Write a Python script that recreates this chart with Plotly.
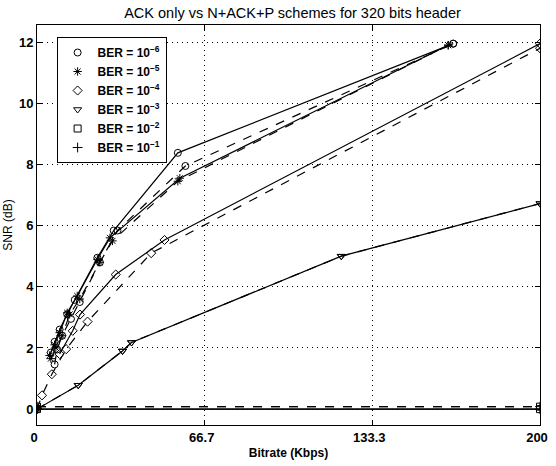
import plotly.graph_objects as go

# ---------------- data ----------------
ber_labels = ["BER = 10<sup>−6</sup>", "BER = 10<sup>−5</sup>", "BER = 10<sup>−4</sup>",
              "BER = 10<sup>−3</sup>", "BER = 10<sup>−2</sup>", "BER = 10<sup>−1</sup>"]
symbols = ["circle-open", "asterisk-open", "diamond-open", "triangle-down-open", "square-open", "cross-thin-open"]

# ACK only (solid)
ack_x_6 = [5.5, 7, 9, 12, 15, 24, 30.5, 56, 165.5]
ack_y_6 = [1.85, 2.2, 2.6, 3.1, 3.57, 4.95, 5.84, 8.38, 11.95]
ack_x_5 = [5, 7, 9, 12, 16, 24, 29, 56.8, 163.5]
ack_y_5 = [1.75, 2.1, 2.5, 3.15, 3.7, 4.9, 5.6, 7.55, 11.9]
ack_x_4 = [9, 14.2, 17.1, 31.3, 50.7, 200]
ack_y_4 = [1.8, 2.56, 3.09, 4.4, 5.53, 11.95]
ack_x_3 = [0, 16.4, 34, 37.6, 121, 200]
ack_y_3 = [0, 0.78, 1.9, 2.18, 5.0, 6.72]
ack_x_2 = [0, 200]
ack_y_2 = [0, 0]
ack_x_1 = [0, 200]
ack_y_1 = [0, 0]

# N+ACK+P (dashed)
nap_x_6 = [7, 8, 10, 13.5, 17, 25, 32, 59, 165.5]
nap_y_6 = [1.46, 1.95, 2.4, 2.95, 3.5, 4.8, 5.84, 7.95, 11.95]
nap_x_5 = [5.5, 7.5, 10, 13, 17, 25, 30, 56, 163.5]
nap_y_5 = [1.65, 2.0, 2.4, 3.1, 3.6, 4.8, 5.5, 7.45, 11.9]
nap_x_4 = [0, 2, 5.9, 11.6, 20.1, 45.4, 200]
nap_y_4 = [0, 0.45, 1.14, 1.96, 2.86, 5.1, 11.8]
nap_x_3 = [0, 16.4, 34, 37.6, 121, 200]
nap_y_3 = [0, 0.78, 1.9, 2.18, 5.0, 6.72]
nap_x_2 = [0, 200]
nap_y_2 = [0.08, 0.08]
nap_x_1 = [0, 200]
nap_y_1 = [0.08, 0.08]

ack_series = [(ack_x_6, ack_y_6), (ack_x_5, ack_y_5), (ack_x_4, ack_y_4),
              (ack_x_3, ack_y_3), (ack_x_2, ack_y_2), (ack_x_1, ack_y_1)]
nap_series = [(nap_x_6, nap_y_6), (nap_x_5, nap_y_5), (nap_x_4, nap_y_4),
              (nap_x_3, nap_y_3), (nap_x_2, nap_y_2), (nap_x_1, nap_y_1)]

x_ticks = [0, 66.7, 133.3, 200]
x_ticklabels = ["0", "66.7", "133.3", "200"]
y_ticks = [0, 2, 4, 6, 8, 10, 12]

# ---------------- figure ----------------
fig = go.Figure()
for (x, y), sym in zip(ack_series, symbols):
    fig.add_trace(go.Scatter(x=x, y=y, mode="lines+markers", showlegend=False,
                             line=dict(color="black", width=1.2),
                             marker=dict(symbol=sym, size=7, color="black", line=dict(width=1, color="black"))))
for (x, y), sym in zip(nap_series, symbols):
    fig.add_trace(go.Scatter(x=x, y=y, mode="lines+markers", showlegend=False,
                             line=dict(color="black", width=1.2, dash="dash"),
                             marker=dict(symbol=sym, size=7, color="black", line=dict(width=1, color="black"))))
# legend-only entries (marker only, as in the reference)
for lab, sym in zip(ber_labels, symbols):
    fig.add_trace(go.Scatter(x=[None], y=[None], mode="markers", name=lab,
                             marker=dict(symbol=sym, size=7, color="black", line=dict(width=1, color="black"))))

axis_common = dict(showline=True, linecolor="black", linewidth=1, mirror="ticks",
                   ticks="inside", ticklen=5, tickcolor="black",
                   showgrid=True, gridcolor="black", griddash="1px,4px", gridwidth=1,
                   zeroline=False,
                   tickfont=dict(family="Liberation Sans", size=13, color="black", weight="bold"))

fig.update_layout(
    width=556, height=466,
    margin=dict(l=37, r=8, t=25, b=38),
    paper_bgcolor="white", plot_bgcolor="white",
    font=dict(family="Liberation Sans", color="black"),
    title=dict(text="ACK only vs N+ACK+P schemes for 320 bits header",
               x=(37 + 548) / 2 / 556, xanchor="center", y=1 - 13 / 466, yanchor="middle",
               font=dict(size=14.5, color="black")),
    xaxis=dict(range=[0, 200], tickvals=x_ticks, ticktext=x_ticklabels,
               ticklabeloverflow="allow", ticklabelshift=-3,
               title=dict(text="Bitrate (Kbps)", standoff=5,
                          font=dict(size=12, weight="bold")), **axis_common),
    yaxis=dict(range=[-0.52, 12.56], tickvals=y_ticks,
               title=dict(text="SNR (dB)", standoff=3, font=dict(size=12)), **axis_common),
    legend=dict(x=0.039, y=0.97, xanchor="left", yanchor="top",
                bgcolor="white", bordercolor="black", borderwidth=1,
                font=dict(size=12, weight="bold"), tracegroupgap=0, itemwidth=30),
)

fig.write_html("out.html")
